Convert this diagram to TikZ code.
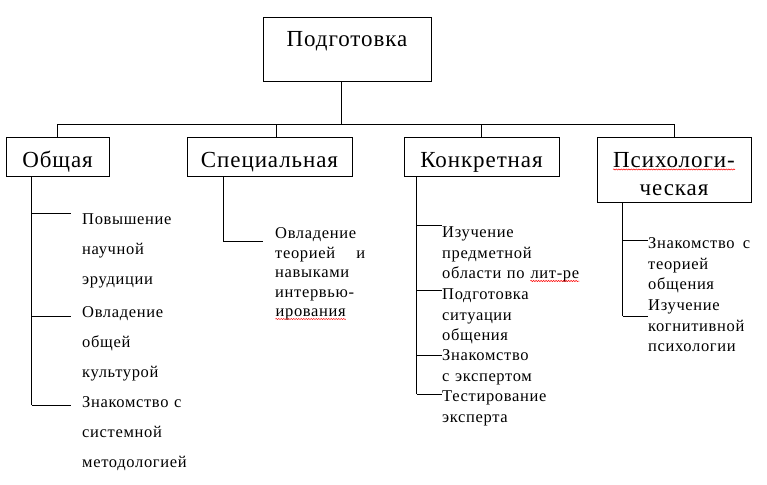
\documentclass[tikz,border=0pt]{standalone}
\usepackage{fontspec}
\setmainfont{Liberation Serif}[LetterSpace=4]
\usetikzlibrary{positioning,decorations.pathmorphing}
\newcommand{\redwave}[1]{\tikz[baseline=(w.base)]{%
  \node[inner sep=0pt,anchor=base,text width={},text height={},text depth={},draw=none] (w) {#1};
  \draw[red,line width=0.5pt,decorate,decoration={snake,amplitude=0.6pt,segment length=2.5pt}]
    ([yshift=-2.5pt]w.base west) -- ([yshift=-2.5pt]w.base east);}}
\tikzset{
  head/.style={draw,line width=1pt,inner sep=0pt,anchor=base,align=center,
    font=\fontsize{23}{28}\selectfont,text height=30pt,text depth=9pt},
  item/.style={anchor=base west,inner sep=0pt,align=left,text width=140pt,
    font=\fontsize{16.5}{20.5}\selectfont},
  wide/.style={item,font=\fontsize{16.5}{30}\selectfont},
  link/.style={line width=1pt}
}
\begin{document}
\begin{tikzpicture}[x=1pt,y=-1pt]
\useasboundingbox (0,0) rectangle (767,484);

\node[head,text width=168pt,text height=29pt,text depth=35pt] (top) at (347,47) {Подготовка};
\node[head,text width=103pt] (obsh) at (57.5,167) {Общая};
\node[head,text width=165pt] (spec) at (269.5,167) {Специальная};
\node[head,text width=155pt] (konk) at (481.5,167) {Конкретная};
\node[head,text width=154pt,text depth=35pt] (psy) at (674,167) {\redwave{Психологи-}\\ческая};

\coordinate (bus) at (0,124);
\draw[link] ([xshift=-6pt]top.south) -- ([xshift=-6pt]top.south |- bus);
\draw[link] (obsh.north |- bus) -- (psy.north |- bus);
\foreach \n/\dx in {obsh/0,spec/6.5,konk/0,psy/0}
  \draw[link] ([xshift=\dx pt]\n.north |- bus) -- ([xshift=\dx pt]\n.north);

\node[wide] (o1) at (82,224.5) {Повышение\\научной\\эрудиции};
\node[wide] (o2) at (82,317.5) {Овладение\\общей\\культурой};
\node[wide] (o3) at (82,407.5) {Знакомство с\\системной\\методологией};

\node[item,text width=90pt,font=\fontsize{16.5}{19.5}\selectfont] (s1) at (275,238.5)
  {Овладение\\теорией\hfill и\\навыками\\интервью-\\\redwave{ирования}};

\node[item] (k1) at (442,237.5) {Изучение\\предметной\\области по \redwave{лит-ре}};
\node[item] (k2) at (442,299.5) {Подготовка\\ситуации\\общения};
\node[item] (k3) at (442,360.5) {Знакомство\\с экспертом};
\node[item] (k4) at (442,401.5) {Тестирование\\эксперта};

\node[item,text width=102pt] (p1) at (648,248.5) {Знакомство\hfill с\\теорией\\общения};
\node[item] (p2) at (648,310.5) {Изучение\\когнитивной\\психологии};

\coordinate (o) at ([xshift=26pt]obsh.south west);
\draw[link] (o) -- (o |- 0,405);
\foreach \y/\n in {213/o1,316/o2,405/o3}
  \draw[link] (o |- 0,\y) -- ([xshift=-11pt]\n.west |- 0,\y);

\coordinate (s) at ([xshift=37pt]spec.south west);
\draw[link] (s) |- ([xshift=-12pt]s1.west |- 0,241);

\coordinate (k) at ([xshift=13pt]konk.south west);
\draw[link] (k) -- (k |- 0,394);
\foreach \y/\n in {225/k1,290/k2,355/k3,394/k4}
  \draw[link] (k |- 0,\y) -- (\n.west |- 0,\y);

\coordinate (p) at ([xshift=26pt]psy.south west);
\draw[link] (p) -- (p |- 0,316);
\foreach \y/\n in {240/p1,316/p2}
  \draw[link] (p |- 0,\y) -- (\n.west |- 0,\y);
\end{tikzpicture}
\end{document}
